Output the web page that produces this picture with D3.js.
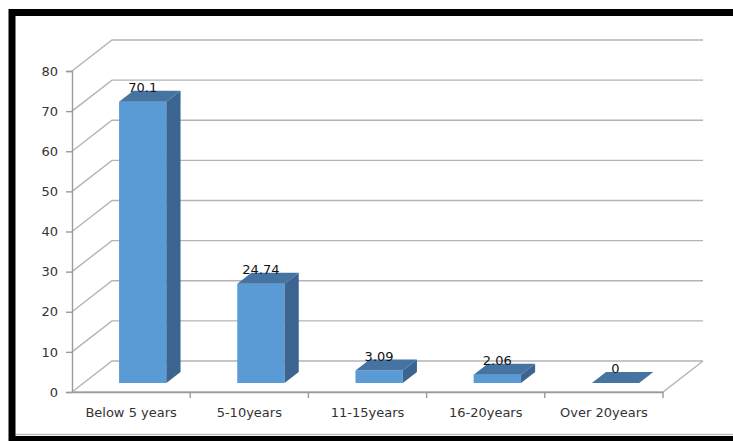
<!DOCTYPE html>
<html>
<head>
<meta charset="utf-8">
<script src="https://cdn.jsdelivr.net/npm/d3@7"></script>
<style>
  body { margin: 0; background: #fff; }
  svg { display: block; font-family: "DejaVu Sans", Verdana, sans-serif; }
</style>
</head>
<body>
<div id="chart"></div>
<script>
// data
const categories = ["Below 5 years", "5-10years", "11-15years", "16-20years", "Over 20years"];
const values = [70.1, 24.74, 3.09, 2.06, 0];
const valueLabels = ["70.1", "24.74", "3.09", "2.06", "0"];
const yTicks = [0, 10, 20, 30, 40, 50, 60, 70, 80];

function drawChart() {
    const width = 733, height = 441;
    const depth = { dx: 40, dy: -31 };   // full depth of the 3d box
    const barFront = 0.29, barBack = 0.645;

    const svg = d3.select("#chart").append("svg")
        .attr("width", width)
        .attr("height", height);

    const x = d3.scaleBand()
        .domain(categories)
        .range([72, 663])
        .paddingInner(0)
        .paddingOuter(0);

    const y = d3.scaleLinear()
        .domain([0, 80])
        .range([392, 71]);

    // point on depth d
    const P = (px, py, d) => [px + depth.dx * d, py + depth.dy * d];
    const pts = arr => arr.map(p => p.join(",")).join(" ");

    const grid = svg.append("g")
        .attr("stroke", "#b4b4b4")
        .attr("stroke-width", 1.4)
        .attr("fill", "none");

    const x0 = x.range()[0], x1 = x.range()[1];

    // back wall + side wall gridlines
    yTicks.forEach(t => {
        const a = P(x0, y(t), 0), b = P(x0, y(t), 1), c = P(x1, y(t), 1);
        grid.append("polyline").attr("points", pts([a, b, c]));
    });
    // floor front edge and right edge
    grid.append("polyline")
        .attr("points", pts([P(x0, y(0), 0), P(x1, y(0), 0), P(x1, y(0), 1)]));

    // bars
    const bw = x.bandwidth() * 0.4;
    const bars = svg.append("g");
    categories.forEach((c, i) => {
        const cx = x(c) + x.bandwidth() / 2;
        const l = cx - bw / 2, r = cx + bw / 2;
        const top = y(values[i]), bot = y(0);
        const g = bars.append("g");
        if (values[i] > 0) {
            // front face
            g.append("polygon")
                .attr("points", pts([P(l, top, barFront), P(r, top, barFront), P(r, bot, barFront), P(l, bot, barFront)]))
                .attr("fill", "#5b9bd5");
            // side face
            g.append("polygon")
                .attr("points", pts([P(r, top, barFront), P(r, top, barBack), P(r, bot, barBack), P(r, bot, barFront)]))
                .attr("fill", "#3b6590");
        }
        // top face
        g.append("polygon")
            .attr("points", pts([P(l, top, barFront), P(r, top, barFront), P(r, top, barBack), P(l, top, barBack)]))
            .attr("fill", "#4573a2");
    });

    // value labels
    svg.append("g")
        .selectAll("text")
        .data(categories)
        .join("text")
        .attr("x", (c, i) => P(x(c) + x.bandwidth() / 2, 0, barFront)[0])
        .attr("y", (c, i) => P(0, y(values[i]), barBack)[1] + 1)
        .attr("text-anchor", "middle")
        .attr("font-size", 13)
        .attr("fill", "#111")
        .text((c, i) => valueLabels[i]);

    // y axis on front plane
    const yAxis = svg.append("g")
        .attr("transform", `translate(${x0},0)`)
        .call(d3.axisLeft(y).tickValues(yTicks).tickSize(6).tickPadding(8));
    yAxis.selectAll("line, path").attr("stroke", "#9a9a9a").attr("stroke-width", 1.4);
    yAxis.selectAll("text").attr("font-size", 13).attr("fill", "#333")
        .attr("font-family", "\"DejaVu Sans\", Verdana, sans-serif");

    // x axis on front plane, ticks at category boundaries
    const xAxis = svg.append("g")
        .attr("transform", `translate(0,${y(0)})`)
        .call(d3.axisBottom(x).tickSize(0).tickPadding(16));
    xAxis.select("path").attr("stroke", "#9a9a9a").attr("stroke-width", 1.4);
    xAxis.selectAll("text").attr("font-size", 13).attr("fill", "#333")
        .attr("font-family", "\"DejaVu Sans\", Verdana, sans-serif");
    xAxis.selectAll(".bound")
        .data(categories)
        .join("line")
        .attr("class", "bound")
        .attr("x1", c => x(c) + x.bandwidth())
        .attr("x2", c => x(c) + x.bandwidth())
        .attr("y1", 0)
        .attr("y2", 6)
        .attr("stroke", "#9a9a9a")
        .attr("stroke-width", 1.4);

    // black frame
    svg.append("line")
        .attr("x1", 15).attr("x2", width).attr("y1", 434.5).attr("y2", 434.5)
        .attr("stroke", "#bdbdbd").attr("stroke-width", 1.5);
    svg.append("rect")
        .attr("x", 12).attr("y", 12.5)
        .attr("width", 1000).attr("height", 427)
        .attr("fill", "none")
        .attr("stroke", "#000")
        .attr("stroke-width", 7);
}

drawChart();
</script>
</body>
</html>
